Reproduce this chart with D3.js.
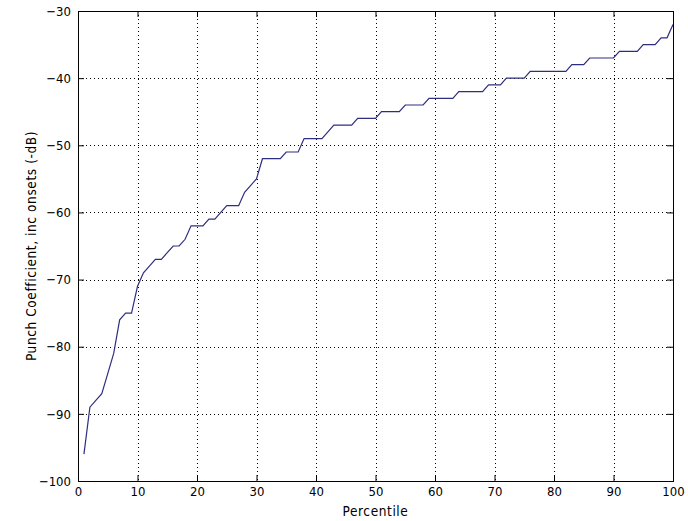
<!DOCTYPE html>
<html lang="en">
<head>
  <meta charset='utf-8'>
  <title>Punch coefficient percentiles</title>
  <style>
    body { margin: 0; background: #ffffff; }
    svg { display: block; background: #ffffff; }
    text { font-family: "Liberation Sans Narrow", "DejaVu Sans Condensed", "Liberation Sans", sans-serif; font-size: 13px; fill: #000; }
    .label { font-size: 13.5px; letter-spacing: 0.6px; }
    .grid line { stroke: #000; stroke-width: 1; stroke-dasharray: 1,3; }
  </style>
</head>
<body>

  <div id="chart"></div>

<script src="https://cdnjs.cloudflare.com/ajax/libs/d3/7.8.5/d3.min.js"></script>
<script>

  ////////////////////////////////////////////////// DATA

  var percentiles = d3.range(1, 101);

  var punchValues = [
    -96, -89, -88, -87, -84, -81, -76, -75, -75, -71,
    -69, -68, -67, -67, -66, -65, -65, -64, -62, -62,
    -62, -61, -61, -60, -59, -59, -59, -57, -56, -55,
    -52, -52, -52, -52, -51, -51, -51, -49, -49, -49,
    -49, -48, -47, -47, -47, -47, -46, -46, -46, -46,
    -45, -45, -45, -45, -44, -44, -44, -44, -43, -43,
    -43, -43, -43, -42, -42, -42, -42, -42, -41, -41,
    -41, -40, -40, -40, -40, -39, -39, -39, -39, -39,
    -39, -39, -38, -38, -38, -37, -37, -37, -37, -37,
    -36, -36, -36, -36, -35, -35, -35, -34, -34, -32
  ];

  var xTicks = [0, 10, 20, 30, 40, 50, 60, 70, 80, 90, 100];
  var yTicks = [-100, -90, -80, -70, -60, -50, -40, -30];

  var xLabel = "Percentile";
  var yLabel = "Punch Coefficient, inc onsets (-dB)";

  ////////////////////////////////////////////////// SETUP

  var width = 688, height = 521;
  var margin = {top: 11, right: 15, bottom: 40, left: 78};
  var plotWidth = width - margin.left - margin.right;
  var plotHeight = height - margin.top - margin.bottom;

  var svg = d3.select("#chart").append("svg")
              .attr("width", width)
              .attr("height", height);

  var g = svg.append("g")
             .attr("transform", "translate(" + margin.left + "," + margin.top + ")");

  var x = d3.scaleLinear().domain([0, 100]).range([0, plotWidth]);
  var y = d3.scaleLinear().domain([-100, -30]).range([plotHeight, 0]);

  // dotted grid
  var grid = g.append("g").attr("class", "grid");
  grid.selectAll(".gx")
      .data(xTicks.slice(1, -1))
      .enter().append("line")
      .attr("x1", function(d){ return Math.round(x(d)) + 0.5; })
      .attr("x2", function(d){ return Math.round(x(d)) + 0.5; })
      .attr("y1", 0).attr("y2", plotHeight);
  grid.selectAll(".gy")
      .data(yTicks.slice(1, -1))
      .enter().append("line")
      .attr("y1", function(d){ return Math.round(y(d)) + 0.5; })
      .attr("y2", function(d){ return Math.round(y(d)) + 0.5; })
      .attr("x1", 0).attr("x2", plotWidth);

  // the line
  var line = d3.line()
               .x(function(d, i){ return x(percentiles[i]); })
               .y(function(d){ return y(d); });

  g.append("path")
   .datum(punchValues)
   .attr("d", line)
   .attr("fill", "none")
   .attr("stroke", "#2e2e80")
   .attr("stroke-width", 1.2);

  // axes, ticks pointing inwards (MATLAB box)
  function styleAxis(sel){
    sel.select(".domain").remove();
    sel.selectAll(".tick line").attr("stroke", "#000");
  }

  g.append("g")
   .attr("transform", "translate(0," + plotHeight + ")")
   .call(d3.axisBottom(x).tickValues(xTicks).tickSizeInner(-6).tickSizeOuter(0).tickPadding(6))
   .call(styleAxis)
   .selectAll("text").style("font-size", "13px").style("font-family", null);

  g.append("g")
   .call(d3.axisTop(x).tickValues(xTicks).tickSizeInner(-6).tickSizeOuter(0).tickFormat(""))
   .call(styleAxis);

  g.append("g")
   .call(d3.axisLeft(y).tickValues(yTicks).tickSizeInner(-6).tickSizeOuter(0).tickPadding(7))
   .call(styleAxis)
   .selectAll("text").style("font-size", "13px").style("font-family", null);

  g.append("g")
   .attr("transform", "translate(" + plotWidth + ",0)")
   .call(d3.axisRight(y).tickValues(yTicks).tickSizeInner(-6).tickSizeOuter(0).tickFormat(""))
   .call(styleAxis);

  // box
  g.append("rect")
   .attr("x", 0.5).attr("y", 0.5)
   .attr("width", plotWidth).attr("height", plotHeight)
   .attr("fill", "none")
   .attr("stroke", "#000");

  // labels
  svg.append("text")
     .attr("class", "label")
     .attr("x", margin.left + plotWidth / 2)
     .attr("y", 516)
     .attr("text-anchor", "middle")
     .text(xLabel);

  svg.append("text")
     .attr("class", "label")
     .attr("transform", "translate(36," + (margin.top + plotHeight / 2) + ") rotate(-90)")
     .attr("text-anchor", "middle")
     .text(yLabel);

</script>
</body>
</html>
